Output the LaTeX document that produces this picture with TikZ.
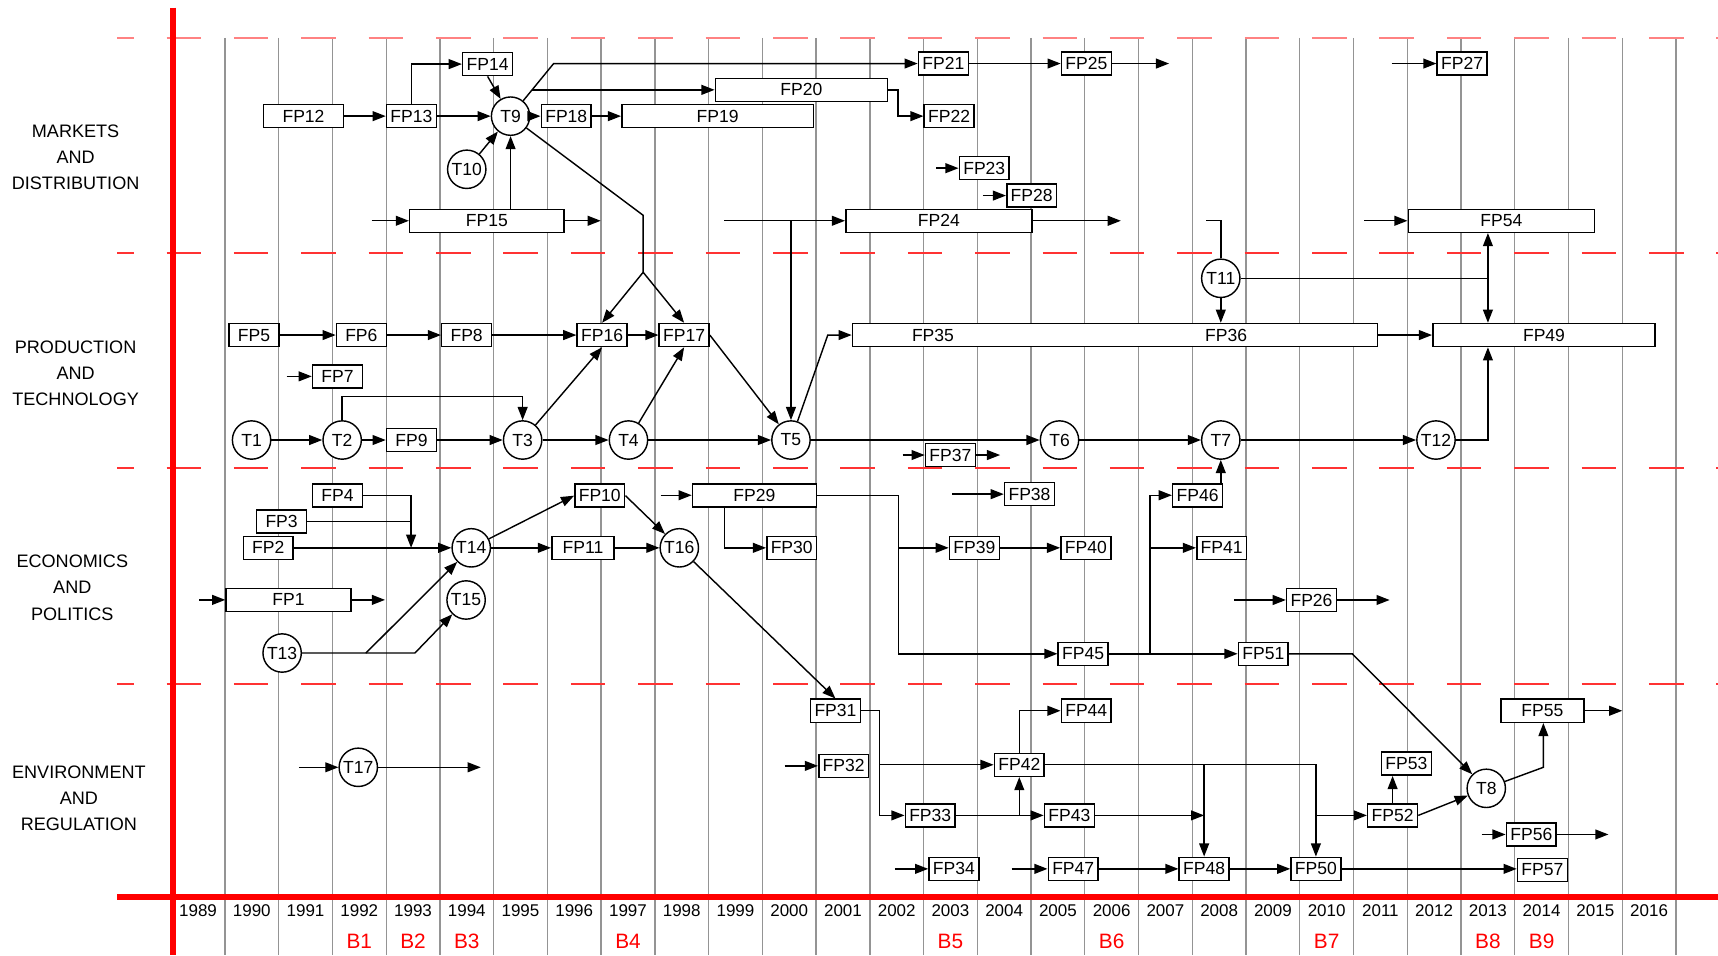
\documentclass[tikz,border=0pt]{standalone}
\usepackage{fontspec}
\setmainfont{Liberation Sans}
\usetikzlibrary{arrows.meta}
\newcommand\nf{\fontsize{16}{18}\selectfont}
\newcommand\bandfont{\fontsize{16.5}{24}\selectfont}
\newcommand\yrfont{\fontsize{15.5}{18}\selectfont}
\newcommand\bfnt{\fontsize{19}{22}\selectfont}
\definecolor{gridgrey}{gray}{0.58}
\definecolor{dashred}{RGB}{255,50,50}
\definecolor{dashpink}{RGB}{255,130,130}
\begin{document}
\begin{tikzpicture}[x=1pt,y=-1pt,
  fp/.style={draw, line width=1.4pt, fill=white, minimum height=21pt, minimum width=45.5pt, inner sep=1pt, font=\nf},
  tc/.style={draw, circle, line width=1.3pt, fill=white, minimum size=35pt, inner sep=0pt, font=\nf},
  con/.style={line width=1.3pt},
  arr/.style={line width=1.3pt, -{Triangle[length=12pt,width=9pt]}},
  gridline/.style={draw=gridgrey, line width=1.2pt},
  band/.style={font=\bandfont, align=center},
  dashsep/.style={line width=2pt, dash pattern=on 31.5pt off 30pt, dash phase=16.5pt},
  axisline/.style={draw=red, line width=5pt},
]
\useasboundingbox (0,0) rectangle (1568,872);
\fill[white] (0,0) rectangle (1568,872);
% grid
\foreach \k in {0,...,27} \draw[gridline] ({205.3+49.05*\k},34.5) -- ({205.3+49.05*\k},872);
% dashed band separators
\draw[dashsep, draw=dashpink] (107,34.5) -- (1568,34.5);
\foreach \yy in {231,427.5,624.3} \draw[dashsep, draw=dashred] (107,\yy) -- (1568,\yy);
% axes
\draw[axisline] (158,7) -- (158,872);
\draw[axisline] (107,818.6) -- (1568,818.6);
% year labels
\foreach \yr [count=\i from 0] in {1989,...,2016} \node[font=\yrfont] (yr\i) at ({180.75+49.05*\i},831.4) {\yr};
\foreach \b/\i in {1/3,2/4,3/5,4/8,5/14,6/17,7/21,8/24,9/25} \node[font=\bfnt, text=red] (B\b) at ({180.75+49.05*\i},859.4) {B\b};
% band labels
\node[band] (bandM) at (69,143.5) {MARKETS\\AND\\DISTRIBUTION};
\node[band] (bandP) at (69,340.5) {PRODUCTION\\AND\\TECHNOLOGY};
\node[band] (bandE) at (66,536.4) {ECONOMICS\\AND\\POLITICS};
\node[band] (bandR) at (72,728.6) {ENVIRONMENT\\AND\\REGULATION};

% ---------- MARKETS ----------
\node[fp, minimum width=73pt] (FP12) at (277,106) {FP12};
\node[fp] (FP13) at (375.5,106) {FP13};
\node[fp] (FP14) at (445,58.5) {FP14};
\node[tc] (T9) at (466,106) {T9};
\node[tc] (T10) at (426,154.5) {T10};
\node[fp, minimum width=141pt] (FP15) at (444.4,201.5) {FP15};
\node[fp] (FP18) at (516.8,106) {FP18};
\node[fp, minimum width=175pt] (FP19) at (655,106) {FP19};
\node[fp, minimum width=157pt] (FP20) at (731.4,82) {FP20};
\node[fp] (FP21) at (861,58) {FP21};
\node[fp] (FP25) at (991.5,58) {FP25};
\node[fp] (FP22) at (866.3,106) {FP22};
\node[fp] (FP23) at (898.3,153.5) {FP23};
\node[fp] (FP28) at (941.6,178.5) {FP28};
\node[fp, minimum width=170pt] (FP24) at (856.9,201.5) {FP24};
\node[fp] (FP27) at (1334.5,58) {FP27};
\node[fp, minimum width=170pt] (FP54) at (1370.3,201.5) {FP54};

% ---------- PRODUCTION ----------
\node[fp] (FP5) at (231.8,305.8) {FP5};
\node[fp] (FP6) at (329.8,305.8) {FP6};
\node[fp] (FP8) at (425.9,305.8) {FP8};
\node[fp] (FP16) at (549.5,305.8) {FP16};
\node[fp] (FP17) at (624.4,305.8) {FP17};
\node[fp, minimum width=479pt] (FP3536) at (1017.5,305.8) {};
\node[font=\nf] (FP35) at (851.5,305.8) {FP35};
\node[font=\nf] (FP36) at (1119,305.8) {FP36};
\node[fp, minimum width=203pt] (FP49) at (1409.2,305.8) {FP49};
\node[fp] (FP7) at (308,343.5) {FP7};
\node[tc] (T1) at (229.6,401.6) {T1};
\node[tc] (T2) at (312.3,401.6) {T2};
\node[fp] (FP9) at (375.5,401.6) {FP9};
\node[tc] (T3) at (477,401.6) {T3};
\node[tc] (T4) at (573.6,401.6) {T4};
\node[tc] (T5) at (721.9,401.6) {T5};
\node[fp] (FP37) at (867.4,415.3) {FP37};
\node[tc] (T6) at (967,401.6) {T6};
\node[tc] (T7) at (1114.2,401.6) {T7};
\node[tc] (T12) at (1310.6,401.6) {T12};
\node[tc] (T11) at (1114.2,254) {T11};

% ---------- ECONOMICS ----------
\node[fp] (FP4) at (308,452) {FP4};
\node[fp] (FP3) at (257,475.8) {FP3};
\node[fp] (FP2) at (244.8,500) {FP2};
\node[fp, minimum width=114pt] (FP1) at (263.3,547.5) {FP1};
\node[tc] (T14) at (430.1,500) {T14};
\node[tc] (T15) at (425.4,547.6) {T15};
\node[tc] (T13) at (257.5,596) {T13};
\node[fp] (FP10) at (547.4,452.4) {FP10};
\node[fp, minimum width=57pt] (FP11) at (532.1,500) {FP11};
\node[tc] (T16) at (620,500) {T16};
\node[fp, minimum width=113pt] (FP29) at (688.5,452) {FP29};
\node[fp] (FP30) at (722.6,500) {FP30};
\node[fp] (FP38) at (939.6,451) {FP38};
\node[fp] (FP39) at (889.3,500) {FP39};
\node[fp] (FP40) at (991,500) {FP40};
\node[fp] (FP45) at (988.6,596.7) {FP45};
\node[fp] (FP46) at (1093,452) {FP46};
\node[fp] (FP41) at (1115,500) {FP41};
\node[fp] (FP26) at (1197,547.6) {FP26};
\node[fp] (FP51) at (1153,596.7) {FP51};

% ---------- ENVIRONMENT ----------
\node[tc] (T17) at (327,700.3) {T17};
\node[fp] (FP31) at (762.5,648.7) {FP31};
\node[fp] (FP32) at (770,699) {FP32};
\node[fp] (FP33) at (849,744.2) {FP33};
\node[fp] (FP34) at (870.6,793) {FP34};
\node[fp] (FP42) at (930.3,698) {FP42};
\node[fp] (FP43) at (976,744.2) {FP43};
\node[fp] (FP44) at (991.4,648.7) {FP44};
\node[fp] (FP47) at (979.5,793) {FP47};
\node[fp] (FP48) at (1099,793) {FP48};
\node[fp] (FP50) at (1201,793) {FP50};
\node[fp] (FP52) at (1271,744.2) {FP52};
\node[fp] (FP53) at (1283.6,697) {FP53};
\node[tc] (T8) at (1356.5,719.5) {T8};
\node[fp, minimum width=76pt] (FP55) at (1407.7,648.7) {FP55};
\node[fp] (FP56) at (1397.6,761.6) {FP56};
\node[fp] (FP57) at (1407.7,794) {FP57};

% ---------- coordinates ----------
\coordinate (d9) at (505.3,58);
\coordinate (b20) at (485.6,82);
\coordinate (k9a) at (587,196.5);
\coordinate (k9b) at (587,248.5);
\coordinate (k20) at (819.5,82);
\coordinate (s15a) at (339.2,201.5);
\coordinate (s15b) at (548.3,201.5);
\coordinate (s24a) at (661,201.5);
\coordinate (j24) at (721.9,201.5);
\coordinate (s24b) at (1023,201.5);
\coordinate (s54) at (1245,201.5);
\coordinate (s23) at (854.4,153.5);
\coordinate (s28) at (897,178.5);
\coordinate (s25) at (1067,58);
\coordinate (s27) at (1270,58);
\coordinate (k3) at (477,362);
\coordinate (k35) at (755.5,305.8);
\coordinate (s11) at (1101,201.5);
\coordinate (j49) at (1358,254);
\coordinate (s7) at (261.6,343.5);
\coordinate (s37a) at (823.7,415.3);
\coordinate (s37b) at (912.8,415.3);
\coordinate (j4) at (375.2,500);
\coordinate (s1a) at (181.8,547.5);
\coordinate (s1b) at (351.4,547.5);
\coordinate (k13a) at (334,596);
\coordinate (k13b) at (378.7,596);
\coordinate (s29) at (603,452);
\coordinate (j30) at (661,462.5);
\coordinate (j29) at (820.2,452);
\coordinate (s38) at (869,451);
\coordinate (j45) at (1049.6,596.7);
\coordinate (s26a) at (1126.2,547.6);
\coordinate (s26b) at (1268.3,547.6);
\coordinate (k51) at (1234.2,596.7);
\coordinate (s17a) at (272.7,700.3);
\coordinate (s17b) at (438.8,700.3);
\coordinate (j31) at (802.7,648.7);
\coordinate (s32) at (716,699);
\coordinate (s34) at (816.7,793);
\coordinate (s47) at (923.3,793);
\coordinate (k55) at (1408.6,700.3);
\coordinate (s55) at (1480.6,648.7);
\coordinate (s56a) at (1352.2,761.6);
\coordinate (s56b) at (1468,761.6);

% ---------- connectors: MARKETS ----------
\draw[arr] (FP12) -- (FP13);
\draw[arr] (FP13) -- (T9);
\draw[arr] (FP13.north) |- (FP14.west);
\draw[arr] (FP14.south) -- (T9);
\draw[arr] (T10) -- (T9);
\draw[arr] (FP15.north -| T9) -- (T9.south);
\draw[arr] (s15a) -- (FP15.west);
\draw[arr] (FP15.east) -- (s15b);
\draw[arr] (T9) -- (FP18);
\draw[arr] (FP18) -- (FP19);
\draw[arr] (T9) -- (d9) -- (FP21.west);
\draw[arr] (b20) -- (FP20.west);
\draw[arr] (FP20.east) -- (k20) |- (FP22.west);
\draw[arr] (FP21) -- (FP25);
\draw[arr] (FP25.east) -- (s25);
\draw[arr] (s27) -- (FP27.west);
\draw[arr] (s23) -- (FP23.west);
\draw[arr] (s28) -- (FP28.west);
\draw[arr] (s24a) -- (FP24.west);
\draw[arr] (j24) -- (T5.north);
\draw[arr] (FP24.east) -- (s24b);
\draw[arr] (s54) -- (FP54.west);
\draw[con] (T9) -- (k9a) -- (k9b);
\draw[arr] (k9b) -- (FP16.north);
\draw[arr] (k9b) -- (FP17.north);

% ---------- connectors: PRODUCTION ----------
\draw[arr] (FP5) -- (FP6);
\draw[arr] (FP6) -- (FP8);
\draw[arr] (FP8) -- (FP16);
\draw[arr] (FP16) -- (FP17);
\draw[arr] (s7) -- (FP7.west);
\draw[arr] (T1) -- (T2);
\draw[arr] (T2) -- (FP9);
\draw[arr] (FP9) -- (T3);
\draw[arr] (T3) -- (T4);
\draw[arr] (T4) -- (T5);
\draw[arr] (T5) -- (T6);
\draw[arr] (T6) -- (T7);
\draw[arr] (T7) -- (T12);
\draw[arr] (T2.north) |- (k3) -- (T3.north);
\draw[arr] (T3) -- (FP16.south);
\draw[arr] (T4) -- (FP17.south);
\draw[arr] (FP17.east) -- (T5);
\draw[arr] (T5) -- (k35) -- (FP3536.west);
\draw[arr] (s37a) -- (FP37.west);
\draw[arr] (FP37.east) -- (s37b);
\draw[con] (s11) -- (s11 -| T11) -- (T11.north);
\draw[arr] (T11.south) -- (T11.south |- FP3536.north);
\draw[con] (T11.east) -- (j49);
\draw[arr] (j49) -- (j49 |- FP54.south);
\draw[arr] (j49) -- (j49 |- FP49.north);
\draw[arr] (T12.east) -| (j49 |- FP49.south);
\draw[arr] (FP3536.east) -- (FP49.west);

% ---------- connectors: ECONOMICS ----------
\draw[arr] (FP4.east) -| (j4);
\draw[con] (FP3.east) -- (FP3.east -| j4);
\draw[arr] (FP2) -- (T14);
\draw[arr] (T14) -- (FP10.west);
\draw[arr] (T14) -- (FP11);
\draw[arr] (FP10.east) -- (T16);
\draw[arr] (FP11) -- (T16);
\draw[arr] (T16) -- (FP31.north);
\draw[arr] (s1a) -- (FP1.west);
\draw[arr] (FP1.east) -- (s1b);
\draw[arr] (T13.east) -- (k13a) -- (T14);
\draw[arr] (k13a) -- (k13b) -- (T15);
\draw[arr] (s29) -- (FP29.west);
\draw[arr] (j30) |- (FP30.west);
\draw[arr] (FP29.east) -- (j29) |- (FP45.west);
\draw[arr] (j29 |- FP39.west) -- (FP39.west);
\draw[arr] (s38) -- (FP38.west);
\draw[arr] (FP39) -- (FP40);
\draw[arr] (FP45) -- (FP51);
\draw[arr] (j45) |- (FP46.west);
\draw[arr] (j45 |- FP41.west) -- (FP41.west);
\draw[arr] (FP46.north -| T7) -- (T7.south);
\draw[arr] (s26a) -- (FP26.west);
\draw[arr] (FP26.east) -- (s26b);
\draw[arr] (FP51.east) -- (k51) -- (T8);

% ---------- connectors: ENVIRONMENT ----------
\draw[arr] (s17a) -- (T17);
\draw[arr] (T17) -- (s17b);
\draw[arr] (FP31.east) -- (j31) |- (FP33.west);
\draw[arr] (j31 |- FP42.west) -- (FP42.west);
\draw[arr] (s32) -- (FP32.west);
\draw[arr] (FP33) -- (FP43);
\draw[arr] (FP42.south |- FP33.east) -- (FP42.south);
\draw[arr] (FP42.north) |- (FP44.west);
\draw[arr] (FP42.east) -| (FP50.north);
\draw[arr] (FP48.north |- FP42.east) -- (FP48.north);
\draw[arr] (FP43.east) -- (FP48.north |- FP43.east);
\draw[arr] (s34) -- (FP34.west);
\draw[arr] (s47) -- (FP47.west);
\draw[arr] (FP47) -- (FP48);
\draw[arr] (FP48) -- (FP50);
\draw[arr] (FP50.east) -- (FP57.west |- FP50.east);
\draw[arr] (FP50.north |- FP52.west) -- (FP52.west);
\draw[arr] (FP52.north) -- (FP52.north |- FP53.south);
\draw[arr] (FP52.east) -- (T8);
\draw[arr] (T8) -- (k55) -- (k55 |- FP55.south);
\draw[arr] (FP55.east) -- (s55);
\draw[arr] (s56a) -- (FP56.west);
\draw[arr] (FP56.east) -- (s56b);
\end{tikzpicture}
\end{document}
